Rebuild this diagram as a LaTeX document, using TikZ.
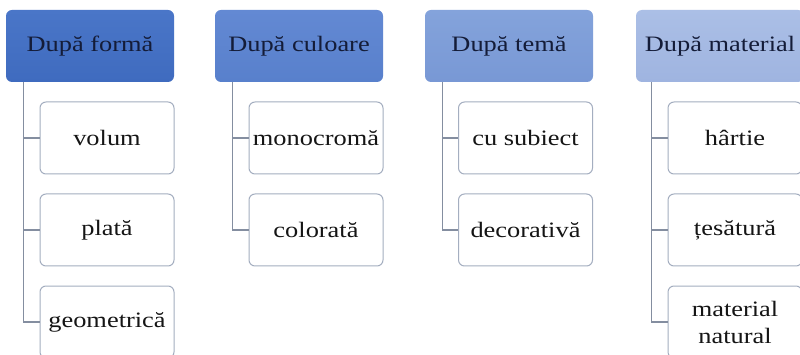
\documentclass[tikz,border=0pt]{standalone}
\usepackage{fontspec}
\setmainfont{Liberation Serif}[FakeStretch=1.2]
\definecolor{navy}{HTML}{141C38}
\definecolor{boxgray}{HTML}{A4AEC0}
\definecolor{linegray}{HTML}{848EA0}
\definecolor{txt}{HTML}{151515}
\definecolor{hA}{HTML}{4A76C8}
\definecolor{hAb}{HTML}{3F6BBF}
\definecolor{hB}{HTML}{6389D3}
\definecolor{hBb}{HTML}{5880CC}
\definecolor{hC}{HTML}{84A3DB}
\definecolor{hCb}{HTML}{7898D5}
\definecolor{hD}{HTML}{ABBFE6}
\definecolor{hDb}{HTML}{9FB4E0}
\begin{document}
\begin{tikzpicture}[x=1pt,y=-1pt,
  hdr/.style={rounded corners=6pt, minimum width=168pt, minimum height=72pt,
    inner sep=0pt, text=navy, font=\fontsize{22}{24}\selectfont},
  leaf/.style={draw=boxgray, line width=1pt, fill=white, rounded corners=6pt,
    minimum width=134pt, minimum height=72pt, inner sep=0pt, align=center,
    text=txt, font=\fontsize{22}{27}\selectfont},
  conn/.style={draw=linegray, line width=1.3pt}]
\useasboundingbox (0,0) rectangle (800,355);
\clip (0,0) rectangle (800,355);
\fill[white] (0,0) rectangle (800,355);

\node[hdr, top color=hA, bottom color=hAb] (h1) at (90,46) {După formă};
\node[hdr, top color=hB, bottom color=hBb] (h2) at (299,46) {După culoare};
\node[hdr, top color=hC, bottom color=hCb] (h3) at (509,46) {După temă};
\node[hdr, top color=hD, bottom color=hDb] (h4) at (720,46) {După material};

\node[leaf] (a1) at (107,138) {volum};
\node[leaf] (a2) at (107,230) {plată};
\node[leaf] (a3) at (107,322) {geometrică};

\node[leaf] (b1) at (316,138) {monocromă};
\node[leaf] (b2) at (316,230) {colorată};

\node[leaf] (c1) at (525.5,138) {cu subiect};
\node[leaf] (c2) at (525.5,230) {decorativă};

\node[leaf] (d1) at (735,138) {hârtie};
\node[leaf] (d2) at (735,230) {țesătură};
\node[leaf] (d3) at (735,322) {material\\natural};

\draw[conn] ([xshift=18pt]h1.south west) |- (a1.west);
\draw[conn] ([xshift=18pt]h1.south west) |- (a2.west);
\draw[conn] ([xshift=18pt]h1.south west) |- (a3.west);
\draw[conn] ([xshift=18pt]h2.south west) |- (b1.west);
\draw[conn] ([xshift=18pt]h2.south west) |- (b2.west);
\draw[conn] ([xshift=18pt]h3.south west) |- (c1.west);
\draw[conn] ([xshift=18pt]h3.south west) |- (c2.west);
\draw[conn] ([xshift=16pt]h4.south west) |- (d1.west);
\draw[conn] ([xshift=16pt]h4.south west) |- (d2.west);
\draw[conn] ([xshift=16pt]h4.south west) |- (d3.west);
\end{tikzpicture}
\end{document}
